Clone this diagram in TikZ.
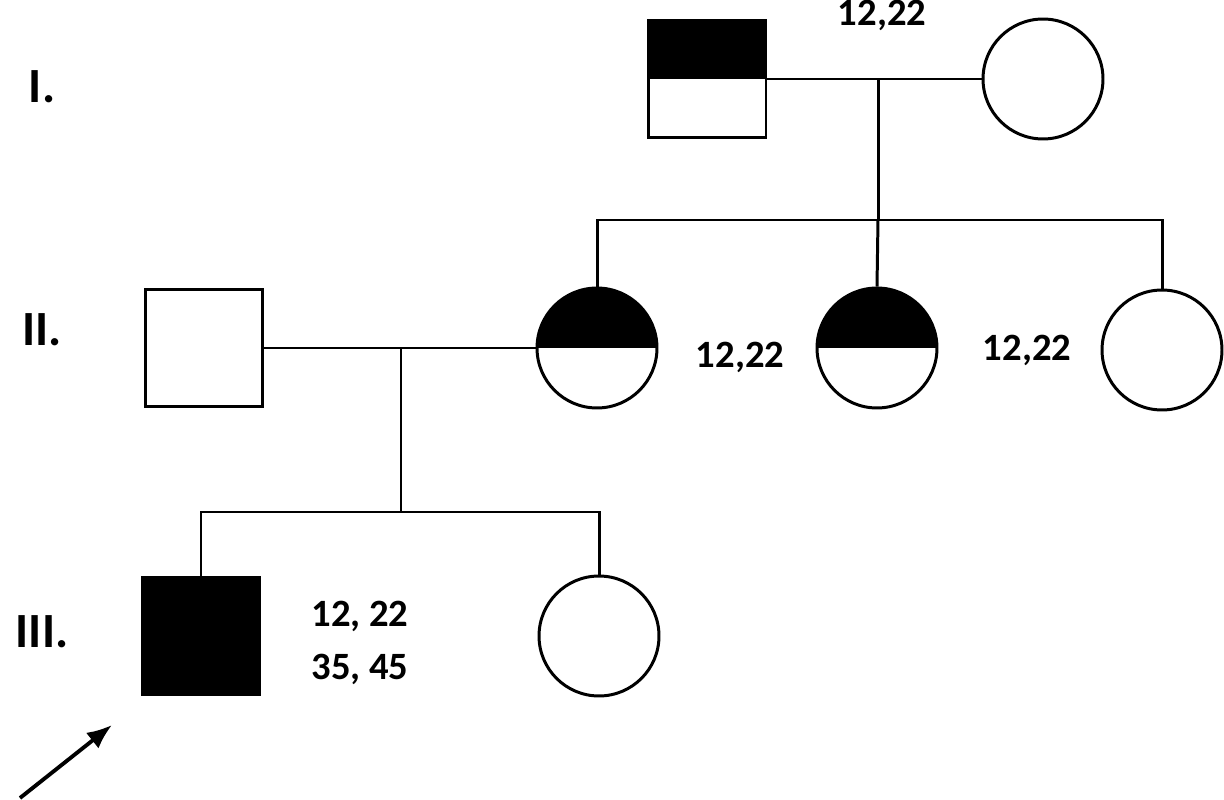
\documentclass[tikz,border=0pt]{standalone}
\usepackage{fontspec}
\setmainfont{Carlito}
\usetikzlibrary{arrows.meta}
\begin{document}
\begin{tikzpicture}
[x=0.02cm, y=-0.02cm, line width=1.7pt,
male/.style={draw, rectangle, minimum size=2.36cm, inner sep=0pt},
female/.style={draw, circle, minimum size=2.4cm, inner sep=0pt},
affected/.style={fill=black},
carrier/.style={path picture={\fill[black] (path picture bounding box.north west) rectangle (path picture bounding box.east);}},
lab/.style={font=\fontsize{22}{30}\selectfont\bfseries, align=left},
gen/.style={font=\fontsize{28}{32}\selectfont\bfseries}
]
\useasboundingbox (0,0) rectangle (1224,800);

% generation I
\node (i-m)   [male, carrier]   at (707,79)  {};
\node (i-f)   [female]          at (1043,79) {};
\coordinate (i-mid) at (878,79);
\coordinate (i-sib) at (878,220);
% generation II
\node (ii-m)  [male]            at (204,348) {};
\node (ii-f1) [female, carrier] at (597,348) {};
\node (ii-f2) [female, carrier] at (877,348) {};
\node (ii-f3) [female]          at (1162,350) {};
\coordinate (ii-mid) at (401,348);
\coordinate (ii-sib) at (401,512);
% generation III
\node (iii-m) [male, affected]  at (201,636) {};
\node (iii-f) [female]          at (599,636) {};

\draw (i-m.east) -- (i-f.west);
\draw (i-mid) -- (i-sib);
\draw (ii-f1.north) |- (i-sib) -| (ii-f3.north);
\draw (i-sib) -- (ii-f2.north);
\draw (ii-m.east) -- (ii-f1.west);
\draw (ii-mid) -- (ii-sib);
\draw (iii-m.north) |- (ii-sib) -| (iii-f.north);

% labels
\node (gen-1)   [gen] at (42,87)  {I.};
\node (gen-2)   [gen] at (42,330) {II.};
\node (gen-3)   [gen] at (42,632) {III.};
\node (lab-i)   [lab] at (882,15)  {12,22};
\node (lab-f1)  [lab] at (740,357) {12,22};
\node (lab-f2)  [lab] at (1027,350) {12,22};
\node (lab-iii) [lab] at (360,643) {12, 22\\35, 45};

% proband
\coordinate (arr-start) at (20,798);
\coordinate (arr-end) at (112,725);
\draw [-{Latex[length=5mm,width=4mm]}, line width=2.2pt] (arr-start) -- (arr-end);
\end{tikzpicture}
\end{document}
